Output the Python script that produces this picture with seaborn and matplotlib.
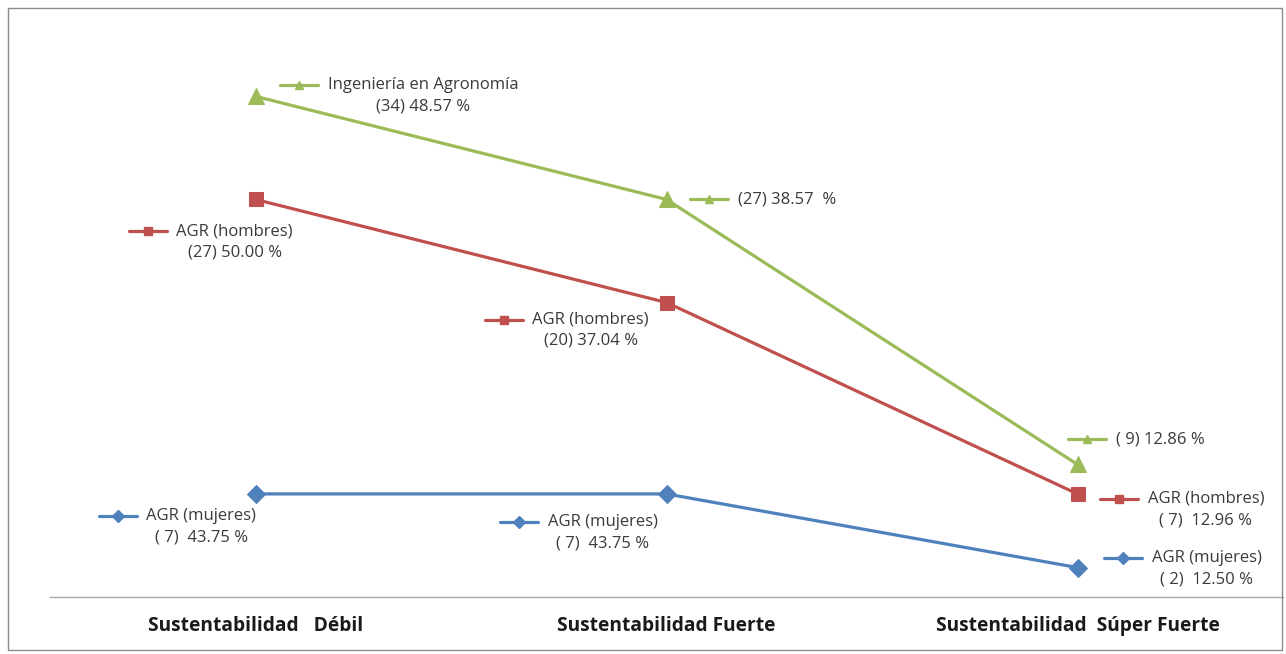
import pandas as pd
import seaborn as sns
import matplotlib.pyplot as plt
from matplotlib.patches import Rectangle

# Categories and counts per group
categories = ["Sustentabilidad   Débil", "Sustentabilidad Fuerte", "Sustentabilidad  Súper Fuerte"]
series_names = ["Ingeniería en Agronomía", "AGR (hombres)", "AGR (mujeres)"]
agronomia = [34, 27, 9]
hombres = [27, 20, 7]
mujeres = [7, 7, 2]

# Label text per point
agronomia_labels = ["Ingeniería en Agronomía\n(34) 48.57 %", "(27) 38.57  %", "( 9) 12.86 %"]
hombres_labels = ["AGR (hombres)\n(27) 50.00 %", "AGR (hombres)\n(20) 37.04 %", "AGR (hombres)\n( 7)  12.96 %"]
mujeres_labels = ["AGR (mujeres)\n( 7)  43.75 %", "AGR (mujeres)\n( 7)  43.75 %", "AGR (mujeres)\n( 2)  12.50 %"]

colors = {"Ingeniería en Agronomía": "#9BBB59", "AGR (hombres)": "#C0504D", "AGR (mujeres)": "#4F81BD"}
markers = {"Ingeniería en Agronomía": "^", "AGR (hombres)": "s", "AGR (mujeres)": "D"}
msizes = {"Ingeniería en Agronomía": 11, "AGR (hombres)": 10, "AGR (mujeres)": 9}

df = pd.DataFrame({
    "x": [0, 1, 2] * 3,
    "serie": [n for n in series_names for _ in range(3)],
    "valor": agronomia + hombres + mujeres,
    "label": agronomia_labels + hombres_labels + mujeres_labels,
})

sns.set_style("white")
plt.rcParams["font.family"] = ["Open Sans", "DejaVu Sans"]

fig = plt.figure(figsize=(12.86, 6.54), dpi=100)
ax = fig.add_axes([50 / 1286, 1 - 597 / 654, 1233 / 1286, 589 / 654])

for name in series_names:
    sub = df[df["serie"] == name]
    sns.lineplot(data=sub, x="x", y="valor", ax=ax, color=colors[name], lw=2.3,
                 marker=markers[name], markersize=msizes[name], markeredgecolor=colors[name],
                 legend=False)

ax.set_xlim(-0.5, 2.5)
ax.set_ylim(0, 40)

# label offsets in pixels from the point: key start dx, key line dy (up positive)
offsets = {
    ("Ingeniería en Agronomía", 0): (24, 11),
    ("Ingeniería en Agronomía", 1): (23, 0),
    ("Ingeniería en Agronomía", 2): (-10, 25),
    ("AGR (hombres)", 0): (-127, -32),
    ("AGR (hombres)", 1): (-182, -17),
    ("AGR (hombres)", 2): (22, -5),
    ("AGR (mujeres)", 0): (-157, -22),
    ("AGR (mujeres)", 1): (-167, -28),
    ("AGR (mujeres)", 2): (26, 10),
}
line_h = 21.5
for _, r in df.iterrows():
    dx, dy = offsets[(r["serie"], r["x"])]
    c = colors[r["serie"]]
    x0, y0 = ax.transData.transform((r["x"], r["valor"]))
    # legend-like key
    ax.add_line(plt.Line2D([x0 + dx, x0 + dx + 38], [y0 + dy, y0 + dy], color=c, lw=2.3,
                           transform=None))
    ax.add_line(plt.Line2D([x0 + dx + 19], [y0 + dy], color=c, marker=markers[r["serie"]],
                           markersize=6, transform=None))
    nlines = r["label"].count("\n") + 1
    ax.text(x0 + dx + 48, y0 + dy - (nlines - 1) * line_h / 2, r["label"], transform=None,
            ha="left", va="center", multialignment="center", fontsize=12,
            linespacing=1.45, color="#3a3a3a")

ax.set_xticks([0, 1, 2])
ax.set_xticklabels(categories, fontsize=13.8, fontweight="bold", color="#1a1a1a")
ax.set_xticks([-0.5, 0.5, 1.5, 2.5], minor=True)
ax.tick_params(axis="x", which="major", length=0, pad=14)
ax.tick_params(axis="x", which="minor", length=6, color="#a6a6a6", width=1, direction="out")
ax.set_yticks([])
ax.set_xlabel("")
ax.set_ylabel("")
for s in ["top", "left", "right"]:
    ax.spines[s].set_visible(False)
ax.spines["bottom"].set_color("#a6a6a6")
ax.spines["bottom"].set_linewidth(1)

fig.patches.append(Rectangle((8 / 1286, 4 / 654), 1274 / 1286, 642 / 654, transform=fig.transFigure,
                             fill=False, edgecolor="#8c8c8c", lw=1))

fig.savefig("out.png", dpi=100)
